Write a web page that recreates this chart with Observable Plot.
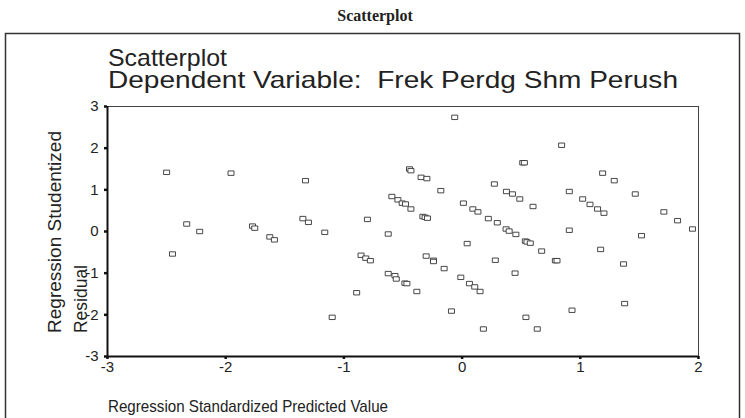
<!DOCTYPE html>
<html>
<head>
<meta charset="utf-8">
<script src="https://cdn.jsdelivr.net/npm/d3@7"></script>
<script src="https://cdn.jsdelivr.net/npm/@observablehq/plot@0.6"></script>
<style>
  html, body { margin: 0; padding: 0; background: #fff; }
  #wrap { position: relative; width: 745px; height: 418px; overflow: hidden; background: #fff; }
  #wrap > svg { position: absolute; left: 0; top: 0; }
  #overlay { pointer-events: none; }
</style>
</head>
<body>
<div id="wrap"></div>
<script>
// ---- data ----
const predicted = [
  -2.50, -2.45, -2.33, -2.22, -1.955, -1.773, -1.754, -1.627, -1.588, -1.325,
  -1.347, -1.30, -1.162, -0.0625, -0.445, -0.433, -0.347, -0.298, -0.18, -0.594,
  -0.543, -0.507, -0.479, -0.433, -0.801, -0.332, -0.313, -0.293, -0.625, 0.011,
  0.091, 0.134, 0.222, 0.298, 0.372, 0.398, 0.455, 0.273, 0.375, 0.426,
  0.488, 0.513, 0.527, 0.043, -0.855, -0.815, -0.776, -0.625, -0.568, -0.557,
  -0.484, -0.467, -0.383, -0.304, -0.242, -0.242, -0.152, -0.011, 0.062, 0.107,
  0.152, 0.281, 0.448, -0.892, -1.099, -0.09, 0.18, 0.842, 1.189, 1.287,
  1.465, 0.907, 1.02, 1.082, 1.146, 1.20, 0.60, 1.707, 1.823, 1.949,
  0.535, 0.549, 0.577, 0.673, 0.789, 0.803, 0.907, 1.518, 1.172, 1.366,
  1.375, 0.93, 0.54, 0.636
];
const residual = [
  1.42, -0.54, 0.18, 0.00, 1.40, 0.13, 0.08, -0.13, -0.20, 1.22,
  0.31, 0.22, -0.02, 2.74, 1.50, 1.46, 1.30, 1.27, 0.98, 0.84,
  0.76, 0.68, 0.66, 0.54, 0.29, 0.36, 0.34, 0.32, -0.06, 0.68,
  0.54, 0.47, 0.31, 0.21, 0.06, 0.01, -0.07, 1.14, 0.96, 0.90,
  0.78, 1.65, 1.65, -0.29, -0.57, -0.64, -0.70, -1.01, -1.06, -1.14,
  -1.24, -1.25, -1.44, -0.59, -0.69, -0.72, -0.89, -1.10, -1.25, -1.33,
  -1.44, -0.69, -1.00, -1.47, -2.06, -1.91, -2.34, 2.07, 1.40, 1.22,
  0.90, 0.96, 0.78, 0.65, 0.54, 0.44, 0.60, 0.47, 0.26, 0.06,
  -0.23, -0.25, -0.28, -0.47, -0.70, -0.70, 0.03, -0.10, -0.43, -0.78,
  -1.73, -1.89, -2.06, -2.34
];
const xTicks = [-3, -2, -1, 0, 1, 2];
const yTicks = [-3, -2, -1, 0, 1, 2, 3];
const pageTitle = "Scatterplot";
const chartTitle = "Scatterplot";
const chartSubtitle = "Dependent Variable:  Frek Perdg Shm Perush";
const xLabel = "Regression Standardized Predicted Value";
const yLabelLines = ["Regression Studentized", "Residual"];

const points = predicted.map((x, i) => ({x, y: residual[i]}));

// small open rectangle marker like SPSS
const rectSymbol = {
  draw(context) {
    context.rect(-3, -2.2, 6, 4.4);
  }
};

const font = "'Liberation Sans Narrow', 'Arial Narrow', 'Liberation Sans', Arial, sans-serif";
const fmt = d => d < 0 ? "-" + Math.abs(d) : String(d);

const chart = Plot.plot({
  width: 745,
  height: 418,
  marginLeft: 107,
  marginRight: 47,
  marginTop: 106,
  marginBottom: 62,
  style: {fontFamily: font, fontSize: "14px", background: "transparent", color: "#222"},
  x: {domain: [-3, 2], label: null},
  y: {domain: [-3, 3], label: null},
  marks: [
    Plot.frame({stroke: "#444", strokeWidth: 1}),
    Plot.axisX({ticks: xTicks, tickSize: 3, tickPadding: 2, strokeWidth: 2.5, stroke: "#111", fontSize: 15, fill: "#222", tickFormat: fmt}),
    Plot.axisY({ticks: yTicks, tickSize: 3, tickPadding: 6, strokeWidth: 2.5, stroke: "#111", fontSize: 15, fill: "#222", tickFormat: fmt}),
    Plot.ruleY([-3], {stroke: "#111", strokeWidth: 2}),
    Plot.ruleX([-3], {stroke: "#111", strokeWidth: 2}),
    Plot.dot(points, {x: "x", y: "y", symbol: rectSymbol, stroke: "#333", strokeWidth: 0.9, fill: "white"})
  ]
});
document.getElementById("wrap").appendChild(chart);

// overlay with titles, labels and outer frame
const NS = "http://www.w3.org/2000/svg";
const ov = document.createElementNS(NS, "svg");
ov.setAttribute("id", "overlay");
ov.setAttribute("width", 745);
ov.setAttribute("height", 418);
document.getElementById("wrap").appendChild(ov);

function addText(str, attrs) {
  const t = document.createElementNS(NS, "text");
  for (const k in attrs) t.setAttribute(k, attrs[k]);
  t.textContent = str;
  ov.appendChild(t);
  return t;
}
const frame = document.createElementNS(NS, "rect");
frame.setAttribute("x", 5.5); frame.setAttribute("y", 33.5);
frame.setAttribute("width", 734); frame.setAttribute("height", 420);
frame.setAttribute("fill", "none"); frame.setAttribute("stroke", "#333"); frame.setAttribute("stroke-width", 1.5);
ov.appendChild(frame);

addText(pageTitle, {x: 375, y: 21, "text-anchor": "middle", "font-family": "'Liberation Serif', 'Times New Roman', serif", "font-weight": "bold", "font-size": 16, fill: "#222"});
addText(chartTitle, {x: 108, y: 66, "font-family": font, "font-size": 24, fill: "#222", textLength: 119, lengthAdjust: "spacingAndGlyphs"});
addText(chartSubtitle, {x: 108, y: 88, "font-family": font, "font-size": 24, fill: "#222", textLength: 570, lengthAdjust: "spacingAndGlyphs", style: "white-space:pre"});
addText(xLabel, {x: 108, y: 412, "font-family": font, "font-size": 17, fill: "#222", textLength: 280, lengthAdjust: "spacingAndGlyphs"});
addText(yLabelLines[0], {x: 0, y: 0, transform: "translate(61,333) rotate(-90)", "font-family": font, "font-size": 18, fill: "#222", textLength: 202, lengthAdjust: "spacingAndGlyphs"});
addText(yLabelLines[1], {x: 0, y: 0, transform: "translate(87,333) rotate(-90)", "font-family": font, "font-size": 18, fill: "#222", textLength: 68, lengthAdjust: "spacingAndGlyphs"});
</script>
</body>
</html>
